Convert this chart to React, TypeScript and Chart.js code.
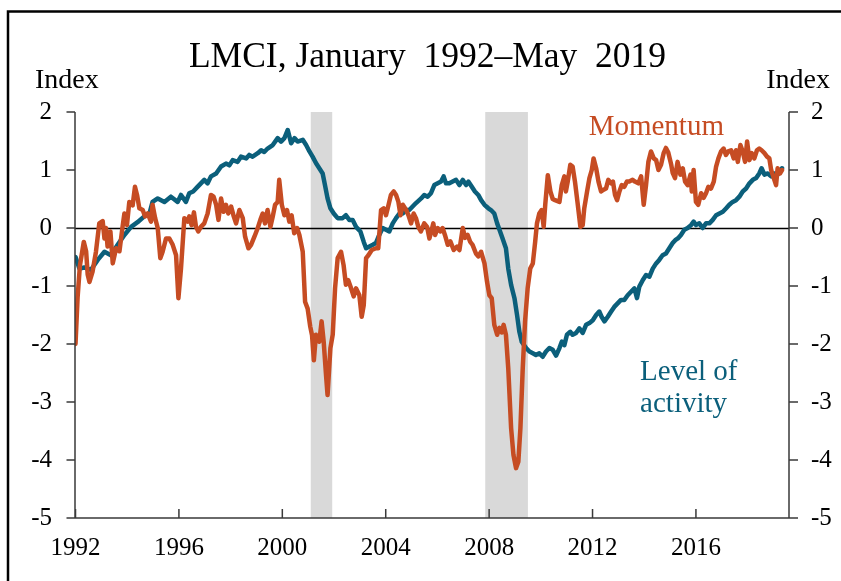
import React, { useEffect, useRef } from "react";
import { Chart, registerables } from "chart.js";

Chart.register(...registerables);

const FONT = "'Liberation Serif', 'Times New Roman', Times, serif";
const ORANGE = "#C64C23";
const TEAL = "#0B5F7B";
const TITLE = "LMCI, January  1992\u2013May  2019";

const xTickYears = [1992, 1996, 2000, 2004, 2008, 2012, 2016];
const X_MIN = 1991.98;
const X_MAX = 2019.6;
const Y_MIN = -5;
const Y_MAX = 2;

const recessionStarts = [2001.1, 2007.85];
const recessionEnds = [2001.93, 2009.5];

const momentumYears = [
  1992.0, 1992.08, 1992.17, 1992.32, 1992.41, 1992.47, 1992.54, 1992.66, 1992.79, 1992.92,
  1993.05, 1993.12, 1993.18, 1993.24, 1993.35, 1993.44, 1993.57, 1993.7, 1993.82, 1993.89,
  1993.99, 1994.08, 1994.21, 1994.3, 1994.38, 1994.47, 1994.6, 1994.69, 1994.79, 1994.92,
  1994.98, 1995.08, 1995.18, 1995.28, 1995.37, 1995.5, 1995.63, 1995.76, 1995.89, 1995.98,
  1996.08, 1996.21, 1996.34, 1996.4, 1996.49, 1996.58, 1996.66, 1996.75, 1996.85, 1996.98,
  1997.11, 1997.24, 1997.34, 1997.44, 1997.53, 1997.63, 1997.73, 1997.82, 1997.91, 1998.02,
  1998.12, 1998.21, 1998.34, 1998.47, 1998.56, 1998.69, 1998.79, 1998.92, 1999.05, 1999.15,
  1999.24, 1999.33, 1999.43, 1999.54, 1999.63, 1999.72, 1999.82, 1999.88, 1999.98, 2000.08,
  2000.18, 2000.27, 2000.36, 2000.46, 2000.57, 2000.66, 2000.79, 2000.88, 2000.98, 2001.08,
  2001.15, 2001.22, 2001.3, 2001.43, 2001.52, 2001.6, 2001.69, 2001.75, 2001.86, 2001.95,
  2002.04, 2002.14, 2002.27, 2002.37, 2002.46, 2002.55, 2002.66, 2002.76, 2002.85, 2002.98,
  2003.07, 2003.15, 2003.24, 2003.33, 2003.46, 2003.62, 2003.71, 2003.82, 2003.92, 2004.01,
  2004.11, 2004.2, 2004.31, 2004.4, 2004.49, 2004.57, 2004.66, 2004.79, 2004.88, 2004.98,
  2005.08, 2005.17, 2005.26, 2005.36, 2005.49, 2005.6, 2005.69, 2005.78, 2005.84, 2005.91,
  2006.01, 2006.11, 2006.2, 2006.29, 2006.4, 2006.5, 2006.63, 2006.76, 2006.85, 2006.98,
  2007.07, 2007.17, 2007.27, 2007.36, 2007.49, 2007.58, 2007.69, 2007.82, 2007.92, 2008.01,
  2008.1, 2008.2, 2008.31, 2008.4, 2008.49, 2008.56, 2008.65, 2008.74, 2008.85, 2008.94,
  2009.04, 2009.13, 2009.21, 2009.3, 2009.39, 2009.49, 2009.59, 2009.69, 2009.78, 2009.85,
  2009.94, 2010.03, 2010.11, 2010.17, 2010.27, 2010.37, 2010.46, 2010.55, 2010.72, 2010.81,
  2010.91, 2010.97, 2011.04, 2011.14, 2011.23, 2011.32, 2011.43, 2011.53, 2011.62, 2011.68,
  2011.79, 2011.88, 2011.97, 2012.04, 2012.14, 2012.23, 2012.33, 2012.43, 2012.52, 2012.61,
  2012.72, 2012.79, 2012.87, 2012.95, 2013.04, 2013.13, 2013.23, 2013.33, 2013.42, 2013.55,
  2013.64, 2013.77, 2013.88, 2013.98, 2014.07, 2014.16, 2014.26, 2014.37, 2014.46, 2014.55,
  2014.65, 2014.75, 2014.84, 2014.93, 2015.04, 2015.1, 2015.19, 2015.29, 2015.4, 2015.49,
  2015.58, 2015.68, 2015.79, 2015.84, 2015.91, 2016.0, 2016.09, 2016.2, 2016.3, 2016.39,
  2016.48, 2016.58, 2016.69, 2016.78, 2016.87, 2016.97, 2017.07, 2017.16, 2017.25, 2017.36,
  2017.46, 2017.55, 2017.62, 2017.72, 2017.81, 2017.9, 2017.98, 2018.07, 2018.16, 2018.26,
  2018.36, 2018.45, 2018.54, 2018.65, 2018.75, 2018.84, 2018.91, 2019.01, 2019.1, 2019.16,
  2019.25, 2019.33,
];

const momentumValues = [
  -2.0, -1.2, -0.65, -0.24, -0.4, -0.8, -0.93, -0.75, -0.41, 0.08,
  0.12, -0.18, 0.0, -0.32, -0.06, -0.61, -0.35, -0.4, 0.02, 0.25,
  0.05, 0.45, 0.39, 0.71, 0.57, 0.34, 0.31, 0.2, 0.25, 0.11,
  0.4, 0.17, 0.0, -0.52, -0.41, -0.18, -0.18, -0.29, -0.47, -1.21,
  -0.7, 0.17, 0.11, 0.2, 0.05, 0.27, 0.02, -0.06, 0.02, 0.08,
  0.25, 0.57, 0.54, 0.4, 0.14, 0.51, 0.28, 0.4, 0.25, 0.37,
  0.2, 0.08, 0.31, 0.17, -0.15, -0.35, -0.29, -0.15, 0.0, 0.14,
  0.25, 0.08, 0.31, 0.02, 0.2, 0.4, 0.45, 0.83, 0.4, 0.22,
  0.31, 0.11, 0.22, -0.09, 0.0, -0.12, -0.41, -1.27, -1.39, -1.7,
  -1.85, -2.28, -1.84, -1.96, -1.61, -1.96, -2.53, -2.88, -2.07, -1.84,
  -1.04, -0.52, -0.41, -0.64, -0.98, -0.9, -1.04, -1.18, -1.04, -1.16,
  -1.53, -1.33, -0.52, -0.47, -0.38, -0.35, -0.35, 0.31, 0.34, 0.22,
  0.4, 0.57, 0.63, 0.57, 0.45, 0.22, 0.4, 0.31, 0.22, 0.08,
  0.25, 0.17, 0.02, -0.06, 0.08, 0.02, -0.18, -0.03, 0.08, -0.12,
  0.0, -0.06, 0.0, -0.12, -0.29, -0.23, -0.38, -0.32, -0.38, 0.0,
  -0.17, -0.12, -0.24, -0.29, -0.44, -0.49, -0.41, -0.61, -0.93, -1.16,
  -1.21, -1.67, -1.84, -1.72, -1.8, -1.67, -1.84, -2.42, -3.45, -3.91,
  -4.14, -4.03, -3.45, -2.42, -1.61, -1.04, -0.7, -0.61, -0.24, 0.08,
  0.25, 0.31, 0.02, 0.4, 0.91, 0.63, 0.5, 0.48, 0.45, 0.74,
  0.89, 0.63, 0.8, 1.09, 1.06, 0.8, 0.4, 0.02, 0.05, 0.34,
  0.63, 0.86, 1.0, 1.2, 1.03, 0.8, 0.63, 0.66, 0.68, 0.83,
  0.77, 0.8, 0.57, 0.48, 0.63, 0.74, 0.71, 0.8, 0.8, 0.83,
  0.8, 0.77, 0.89, 0.4, 0.74, 1.14, 1.32, 1.2, 1.17, 1.0,
  1.09, 1.29, 1.38, 1.3, 1.1, 0.95, 0.86, 1.14, 0.92, 1.03,
  0.8, 0.74, 0.92, 0.63, 1.0, 0.45, 0.4, 0.6, 0.52, 0.6,
  0.71, 0.68, 0.8, 1.06, 1.2, 1.32, 1.37, 1.26, 1.32, 1.34,
  1.2, 1.34, 1.14, 1.43, 1.32, 1.14, 1.49, 1.17, 1.29, 1.2,
  1.34, 1.37, 1.34, 1.29, 1.23, 1.2, 1.0, 0.86, 0.74, 1.03,
  0.94, 1.0,
];

const levelYears = [
  1992.0, 1992.15, 1992.34, 1992.6, 1992.86, 1993.12, 1993.37, 1993.63, 1993.89, 1994.15,
  1994.4, 1994.66, 1994.86, 1994.98, 1995.18, 1995.44, 1995.69, 1995.95, 1996.08, 1996.27,
  1996.4, 1996.55, 1996.7, 1996.85, 1996.98, 1997.11, 1997.24, 1997.44, 1997.63, 1997.82,
  1997.95, 1998.08, 1998.27, 1998.4, 1998.6, 1998.72, 1998.85, 1999.05, 1999.18, 1999.3,
  1999.43, 1999.63, 1999.82, 1999.95, 2000.08, 2000.21, 2000.34, 2000.47, 2000.59, 2000.79,
  2000.92, 2001.05, 2001.17, 2001.3, 2001.43, 2001.56, 2001.65, 2001.75, 2001.86, 2001.99,
  2002.14, 2002.33, 2002.46, 2002.59, 2002.72, 2002.85, 2003.02, 2003.15, 2003.24, 2003.37,
  2003.5, 2003.62, 2003.75, 2003.88, 2004.01, 2004.14, 2004.27, 2004.4, 2004.53, 2004.66,
  2004.79, 2004.91, 2005.04, 2005.17, 2005.37, 2005.49, 2005.62, 2005.75, 2005.88, 2006.01,
  2006.14, 2006.24, 2006.33, 2006.46, 2006.59, 2006.72, 2006.85, 2006.98, 2007.11, 2007.2,
  2007.33, 2007.45, 2007.58, 2007.69, 2007.82, 2007.97, 2008.07, 2008.2, 2008.31, 2008.4,
  2008.52, 2008.65, 2008.74, 2008.85, 2008.98, 2009.08, 2009.17, 2009.26, 2009.43, 2009.56,
  2009.69, 2009.81, 2009.94, 2010.07, 2010.2, 2010.33, 2010.46, 2010.59, 2010.72, 2010.81,
  2010.91, 2011.01, 2011.14, 2011.23, 2011.36, 2011.49, 2011.62, 2011.75, 2011.88, 2012.01,
  2012.14, 2012.26, 2012.35, 2012.46, 2012.59, 2012.72, 2012.84, 2012.97, 2013.1, 2013.23,
  2013.36, 2013.49, 2013.62, 2013.72, 2013.81, 2013.94, 2014.07, 2014.2, 2014.33, 2014.46,
  2014.58, 2014.71, 2014.84, 2014.97, 2015.1, 2015.2, 2015.3, 2015.42, 2015.55, 2015.68,
  2015.81, 2015.91, 2016.0, 2016.13, 2016.26, 2016.39, 2016.52, 2016.65, 2016.78, 2016.91,
  2017.04, 2017.17, 2017.29, 2017.42, 2017.55, 2017.68, 2017.81, 2017.94, 2018.07, 2018.2,
  2018.33, 2018.45, 2018.54, 2018.65, 2018.78, 2018.91, 2019.04, 2019.16, 2019.29, 2019.33,
];

const levelValues = [
  -0.5, -0.7, -0.68, -0.72, -0.55, -0.41, -0.47, -0.29, -0.12, 0.02,
  0.1, 0.2, 0.25, 0.45, 0.51, 0.45, 0.54, 0.45, 0.57, 0.45,
  0.6, 0.63, 0.7, 0.77, 0.83, 0.77, 0.89, 0.94, 1.06, 1.11,
  1.08, 1.17, 1.14, 1.23, 1.2, 1.26, 1.23, 1.29, 1.34, 1.31,
  1.37, 1.43, 1.55, 1.49, 1.55, 1.69, 1.46, 1.55, 1.49, 1.52,
  1.43, 1.32, 1.23, 1.12, 1.03, 0.94, 0.74, 0.51, 0.34, 0.25,
  0.17, 0.17, 0.22, 0.14, 0.14, 0.02, -0.06, -0.24, -0.35, -0.32,
  -0.29, -0.26, -0.12, 0.0, -0.03, -0.06, 0.08, 0.17, 0.25, 0.25,
  0.31, 0.31, 0.37, 0.43, 0.51, 0.57, 0.54, 0.6, 0.74, 0.77,
  0.8, 0.89, 0.77, 0.77, 0.8, 0.83, 0.74, 0.83, 0.74, 0.8,
  0.71, 0.63, 0.57, 0.48, 0.4, 0.34, 0.31, 0.25, 0.08, -0.03,
  -0.18, -0.35, -0.7, -0.98, -1.21, -1.5, -1.79, -1.96, -2.07, -2.13,
  -2.16, -2.19, -2.16, -2.22, -2.13, -2.07, -2.1, -2.2, -2.07, -1.96,
  -2.02, -1.84, -1.79, -1.84, -1.81, -1.73, -1.81, -1.67, -1.64, -1.59,
  -1.5, -1.44, -1.53, -1.61, -1.53, -1.44, -1.36, -1.3, -1.24, -1.24,
  -1.16, -1.1, -1.04, -1.21, -1.01, -0.9, -0.81, -0.84, -0.7, -0.61,
  -0.55, -0.47, -0.44, -0.35, -0.26, -0.21, -0.18, -0.12, -0.03, 0.0,
  0.05, 0.11, 0.05, 0.08, 0.0, 0.08, 0.08, 0.14, 0.22, 0.25,
  0.28, 0.34, 0.4, 0.45, 0.48, 0.54, 0.63, 0.68, 0.77, 0.83,
  0.86, 0.94, 1.03, 0.92, 0.94, 0.89, 0.94, 0.92, 1.0, 1.03,
];

// Label anchors in data units
const momentumLabel = { text: "Momentum", x: 2011.85, y: 1.6 };
const levelLabel = { lines: ["Level of", "activity"], x: 2013.84, y: [-2.62, -3.17] };

const decorPlugin = {
  id: "decor",
  beforeDraw(chart: any) {
    const { ctx, width, height } = chart;
    ctx.save();
    ctx.fillStyle = "#ffffff";
    ctx.fillRect(0, 0, width, height);
    ctx.strokeStyle = "#000000";
    ctx.lineWidth = 2.5;
    ctx.strokeRect(8, 11.5, width + 40, height + 40);
    ctx.restore();
  },
  beforeDatasetsDraw(chart: any) {
    const { ctx, chartArea: a } = chart;
    const xs = chart.scales.x;
    const ys = chart.scales.y;
    ctx.save();
    ctx.fillStyle = "#D9D9D9";
    recessionStarts.forEach((s, i) => {
      const x0 = xs.getPixelForValue(s);
      const x1 = xs.getPixelForValue(recessionEnds[i]);
      ctx.fillRect(x0, a.top, x1 - x0, a.bottom - a.top);
    });
    const y0 = Math.round(ys.getPixelForValue(0)) + 0.5;
    ctx.strokeStyle = "#000000";
    ctx.lineWidth = 1.3;
    ctx.beginPath();
    ctx.moveTo(a.left, y0);
    ctx.lineTo(a.right, y0);
    ctx.stroke();
    ctx.restore();
  },
  afterDatasetsDraw(chart: any) {
    const { ctx, chartArea: a } = chart;
    const xs = chart.scales.x;
    const ys = chart.scales.y;
    const ys2 = chart.scales.y2;
    ctx.save();
    ctx.strokeStyle = "#3a3a3a";
    ctx.lineWidth = 1.5;
    ctx.beginPath();
    ctx.moveTo(a.left, a.top);
    ctx.lineTo(a.left, a.bottom);
    ctx.lineTo(a.right, a.bottom);
    ctx.lineTo(a.right, a.top);
    ys.ticks.forEach((t: any) => {
      const py = ys.getPixelForValue(t.value);
      ctx.moveTo(a.left - 8.5, py);
      ctx.lineTo(a.left, py);
    });
    ys2.ticks.forEach((t: any) => {
      const py = ys2.getPixelForValue(t.value);
      ctx.moveTo(a.right, py);
      ctx.lineTo(a.right + 9, py);
    });
    xs.ticks.forEach((t: any) => {
      const px = xs.getPixelForValue(t.value);
      ctx.moveTo(px, a.bottom);
      ctx.lineTo(px, a.bottom - 9);
    });
    ctx.stroke();
    ctx.restore();
  },
  afterDraw(chart: any) {
    const { ctx } = chart;
    const xs = chart.scales.x;
    const ys = chart.scales.y;
    ctx.save();
    ctx.textBaseline = "alphabetic";
    ctx.fillStyle = "#000000";
    ctx.font = `35.5px ${FONT}`;
    ctx.textAlign = "center";
    ctx.fillText(TITLE, 427.5, 66.7);
    ctx.font = `28px ${FONT}`;
    ctx.textAlign = "left";
    ctx.fillText("Index", 35, 88);
    ctx.textAlign = "right";
    ctx.fillText("Index", 830, 88);
    ctx.font = `29px ${FONT}`;
    ctx.textAlign = "left";
    ctx.fillStyle = ORANGE;
    ctx.fillText(momentumLabel.text, xs.getPixelForValue(momentumLabel.x), ys.getPixelForValue(momentumLabel.y));
    ctx.fillStyle = TEAL;
    levelLabel.lines.forEach((line, i) => {
      ctx.fillText(line, xs.getPixelForValue(levelLabel.x), ys.getPixelForValue(levelLabel.y[i]));
    });
    ctx.restore();
  },
};

export default function App() {
  const canvasRef = useRef<HTMLCanvasElement | null>(null);

  useEffect(() => {
    const canvas = canvasRef.current;
    if (!canvas) return;
    const tickFont = { family: FONT, size: 25 };
    const chart = new Chart(canvas, {
      type: "line",
      data: {
        datasets: [
          {
            label: "Momentum",
            data: momentumYears.map((x, i) => ({ x, y: momentumValues[i] })),
            borderColor: ORANGE,
            borderWidth: 4.5,
            pointRadius: 0,
            tension: 0,
            borderJoinStyle: "round",
            borderCapStyle: "round",
            yAxisID: "y",
          },
          {
            label: "Level of activity",
            data: levelYears.map((x, i) => ({ x, y: levelValues[i] })),
            borderColor: TEAL,
            borderWidth: 4.5,
            pointRadius: 0,
            tension: 0,
            borderJoinStyle: "round",
            borderCapStyle: "round",
            yAxisID: "y",
          },
        ],
      },
      options: {
        responsive: false,
        animation: false,
        devicePixelRatio: 1,
        layout: { padding: { top: 112, left: 0, right: 0, bottom: 0 } },
        plugins: {
          legend: { display: false },
          tooltip: { enabled: false },
          title: { display: false },
        },
        scales: {
          x: {
            type: "linear",
            min: X_MIN,
            max: X_MAX,
            grid: { display: false, drawTicks: false },
            border: { display: false },
            afterBuildTicks: (s: any) => {
              s.ticks = xTickYears.map((v) => ({ value: v }));
            },
            afterFit: (s: any) => {
              s.height = 63;
            },
            ticks: {
              padding: 15,
              color: "#000",
              font: tickFont,
              autoSkip: false,
              maxRotation: 0,
              callback: (v: any) => String(v),
            },
          },
          y: {
            position: "left",
            min: Y_MIN,
            max: Y_MAX,
            grid: { display: false, drawTicks: false },
            border: { display: false },
            afterFit: (s: any) => {
              s.width = 75;
            },
            ticks: {
              stepSize: 1,
              padding: 23,
              color: "#000",
              font: tickFont,
              callback: (v: any) => String(v),
            },
          },
          y2: {
            position: "right",
            min: Y_MIN,
            max: Y_MAX,
            grid: { display: false, drawTicks: false },
            border: { display: false },
            afterFit: (s: any) => {
              s.width = 52;
            },
            ticks: {
              stepSize: 1,
              padding: 22,
              color: "#000",
              font: tickFont,
              callback: (v: any) => String(v),
            },
          },
        },
      } as any,
      plugins: [decorPlugin],
    });
    return () => chart.destroy();
  }, []);

  return (
    <div style={{ position: "absolute", left: 0, top: 0, width: 841, height: 581, background: "#fff" }}>
      <canvas ref={canvasRef} width={841} height={581} style={{ display: "block", width: 841, height: 581 }} />
    </div>
  );
}
